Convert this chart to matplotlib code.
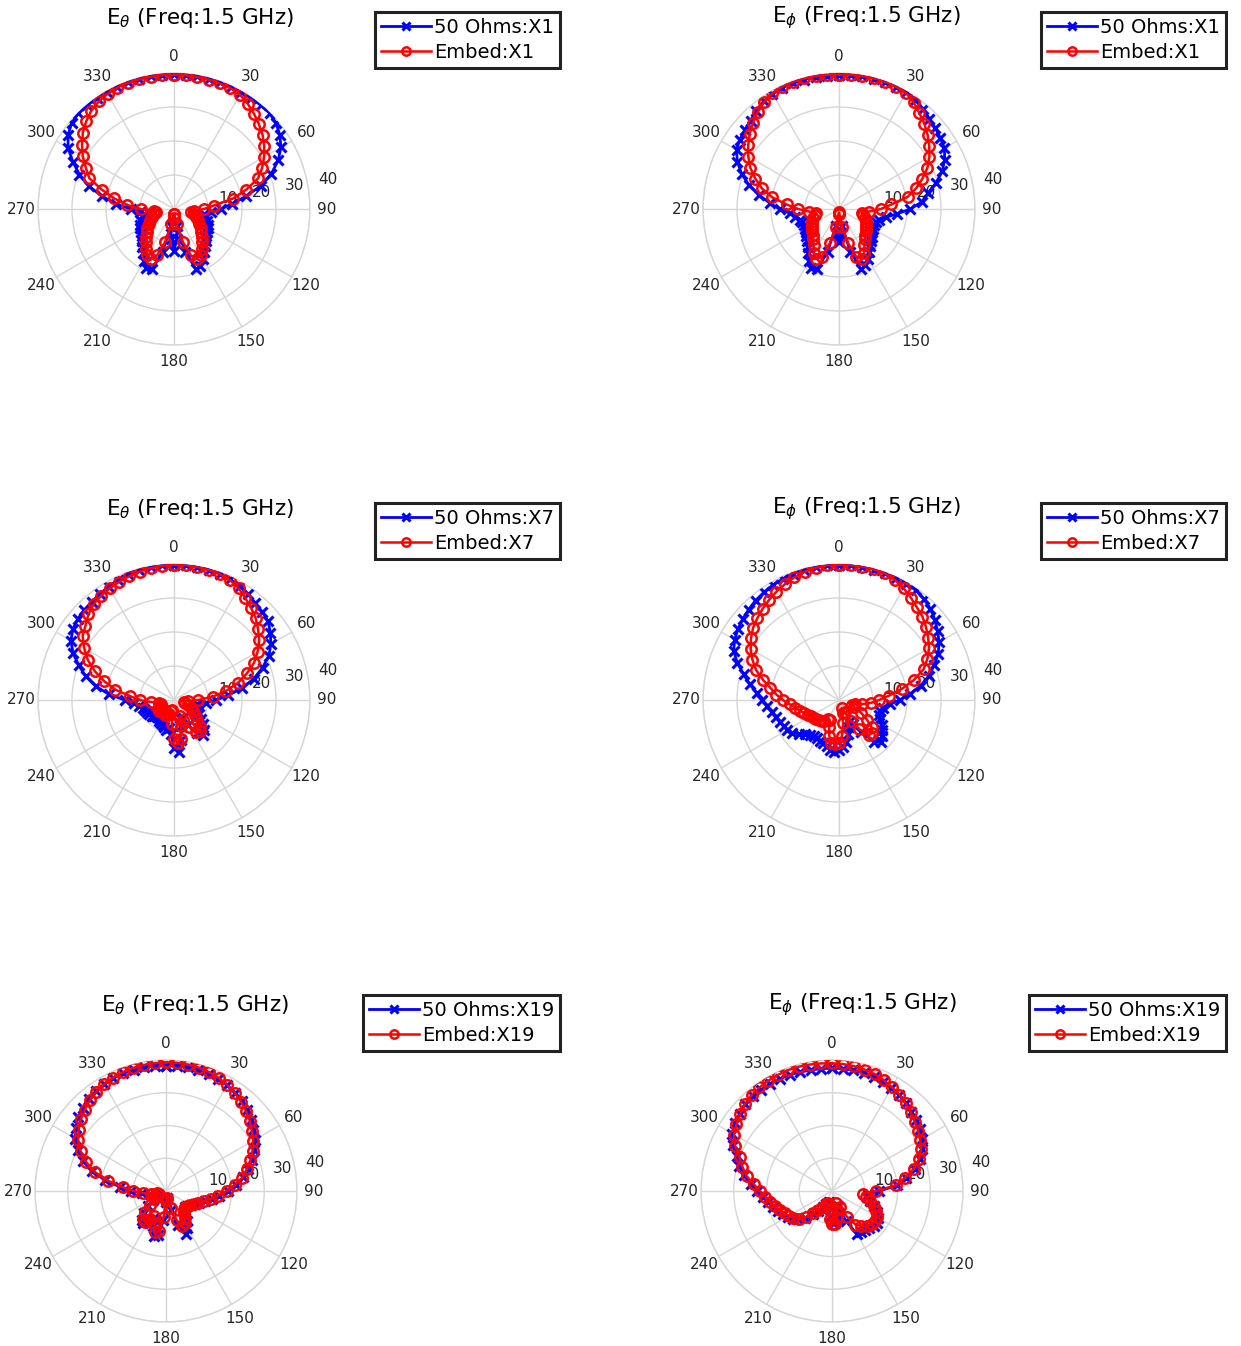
import numpy as np
import matplotlib
matplotlib.use("Agg")
import matplotlib.pyplot as plt

# ---------------- data (r in dB-scale units, sampled every 5 degrees) ----------------
angles_deg = list(range(0, 360, 5))
r_ticks = [10, 20, 30, 40]
theta_tick_labels = [str(a) for a in range(0, 360, 30)]
freq_label = "Freq:1.5 GHz"
ports = ["X1", "X7", "X19"]
series_names = ["50 Ohms", "Embed"]

# X1, E_theta
x1_theta_50ohm = [39.6, 39.6, 39.6, 39.6, 39.6, 39.6, 39.6, 39.7, 39.8, 39.8, 39.2, 38.0,
                  36.3, 33.8, 30.5, 26.5, 21.5, 17.0, 13.8, 11.0, 9.0, 9.5, 10.4, 11.0,
                  11.4, 11.8, 12.3, 13.2, 14.3, 15.6, 17.0, 18.4, 18.9, 13.0, 5.0, 9.0,
                  12.3, 9.0, 5.0, 13.0, 18.9, 19.2, 17.5, 15.8, 14.5, 13.3, 12.4, 11.8,
                  11.4, 11.0, 10.4, 9.5, 9.0, 10.0, 12.7, 17.0, 21.5, 25.8, 29.6, 32.8,
                  36.0, 38.0, 39.3, 39.8, 39.8, 39.7, 39.6, 39.6, 39.6, 39.6, 39.6, 39.6]
x1_theta_embed = [39.5, 39.5, 39.4, 39.4, 39.3, 39.2, 38.8, 37.8, 36.6, 35.3, 34.0, 32.4,
                  30.6, 28.6, 26.3, 22.0, 17.6, 11.8, 8.8, 6.0, 5.2, 6.0, 7.0, 7.8,
                  8.6, 9.6, 10.4, 11.5, 12.8, 14.2, 15.6, 16.2, 14.5, 10.0, 4.5, 1.5,
                  2.5, 1.5, 4.5, 10.0, 14.5, 16.2, 15.6, 14.2, 12.8, 11.5, 10.4, 9.6,
                  8.6, 7.8, 7.0, 6.0, 5.3, 6.0, 9.8, 13.8, 17.8, 22.0, 26.5, 28.6,
                  31.0, 33.0, 35.0, 36.5, 37.8, 38.6, 39.1, 39.4, 39.5, 39.5, 39.5, 39.5]

# X1, E_phi
x1_phi_50ohm = [39.4, 39.5, 39.6, 39.7, 39.7, 39.7, 39.6, 39.2, 38.4, 37.6, 37.0, 36.4,
                35.8, 34.3, 32.3, 29.5, 26.5, 24.5, 21.0, 17.0, 14.0, 12.3, 11.6, 11.4,
                11.6, 12.0, 12.6, 13.3, 14.3, 15.6, 17.0, 18.3, 18.9, 13.0, 5.0, 7.5,
                9.8, 7.5, 5.0, 13.0, 18.9, 19.3, 17.5, 15.8, 14.4, 13.3, 12.5, 12.0,
                11.6, 11.4, 11.5, 12.0, 13.0, 14.5, 17.5, 20.5, 23.9, 27.5, 30.5, 33.0,
                34.8, 35.6, 36.2, 36.8, 37.8, 38.6, 39.2, 39.4, 39.4, 39.4, 39.4, 39.4]
x1_phi_embed = [39.5, 39.6, 39.7, 39.8, 39.8, 39.7, 39.4, 38.3, 36.8, 35.5, 34.0, 32.4,
                30.7, 28.7, 26.1, 23.5, 20.5, 15.5, 12.3, 8.8, 6.8, 7.2, 8.0, 8.7,
                9.2, 9.7, 10.2, 10.9, 11.7, 13.0, 14.8, 16.2, 15.0, 10.5, 5.5, 1.5,
                1.0, 1.5, 5.5, 10.5, 15.0, 16.2, 14.8, 13.0, 11.7, 10.9, 10.2, 9.7,
                9.2, 8.7, 8.0, 7.2, 6.8, 8.8, 12.0, 15.5, 20.0, 23.5, 26.2, 28.8,
                30.8, 32.6, 34.3, 35.8, 37.2, 38.4, 39.3, 39.7, 39.8, 39.8, 39.7, 39.6]

# X7, E_theta
x7_theta_50ohm = [39.8, 39.8, 39.8, 39.7, 39.5, 39.2, 38.7, 38.0, 37.2, 36.7, 36.1, 34.6,
                  32.9, 30.8, 27.7, 24.3, 20.4, 16.0, 12.5, 9.5, 7.0, 6.5, 7.0, 7.5,
                  8.5, 9.8, 11.2, 12.6, 13.4, 12.0, 8.5, 6.0, 5.5, 8.0, 12.0, 15.5,
                  14.0, 10.0, 8.5, 9.2, 8.5, 8.0, 7.9, 7.5, 7.0, 7.0, 7.5, 8.0,
                  8.5, 8.6, 9.0, 9.5, 10.5, 11.8, 14.5, 19.2, 23.4, 26.9, 29.8, 32.8,
                  35.0, 36.3, 37.0, 37.4, 37.7, 38.0, 38.5, 39.0, 39.3, 39.5, 39.7, 39.8]
x7_theta_embed = [39.8, 39.8, 39.7, 39.6, 39.4, 38.9, 38.0, 36.6, 35.3, 34.0, 32.3, 30.6,
                  28.4, 26.0, 22.8, 19.5, 15.6, 11.5, 7.0, 4.0, 3.0, 3.5, 4.5, 5.5,
                  6.5, 7.5, 9.0, 10.8, 11.9, 11.5, 9.0, 6.5, 5.0, 8.0, 11.5, 12.8,
                  11.5, 7.0, 3.0, 3.5, 4.5, 5.0, 5.0, 4.5, 4.0, 4.5, 5.0, 5.5,
                  5.5, 5.0, 4.5, 4.0, 4.5, 6.9, 10.0, 13.0, 17.5, 21.2, 24.8, 28.0,
                  30.5, 32.8, 34.0, 35.6, 36.8, 37.4, 37.9, 38.3, 38.7, 39.1, 39.4, 39.6]

# X7, E_phi
x7_phi_50ohm = [39.8, 39.8, 39.8, 39.7, 39.6, 39.5, 39.5, 39.4, 38.8, 38.0, 36.8, 35.4,
                34.0, 32.2, 29.8, 27.3, 24.5, 21.0, 17.8, 15.0, 13.0, 12.5, 12.6, 13.3,
                14.5, 15.6, 16.6, 17.4, 16.0, 11.5, 8.0, 7.0, 8.5, 10.5, 12.5, 14.0,
                14.8, 15.3, 15.0, 14.0, 13.5, 13.2, 12.9, 13.0, 13.4, 14.0, 15.5, 16.8,
                17.5, 18.0, 18.5, 19.3, 20.1, 21.3, 22.7, 24.3, 26.7, 29.0, 31.8, 34.2,
                35.4, 36.3, 37.0, 37.6, 38.2, 38.6, 39.0, 39.3, 39.5, 39.6, 39.7, 39.8]
x7_phi_embed = [39.8, 39.8, 39.8, 39.8, 39.6, 38.9, 38.0, 36.8, 35.6, 34.7, 33.4, 32.0,
                30.6, 28.7, 26.5, 22.8, 18.8, 14.8, 11.8, 9.5, 7.0, 5.0, 4.0, 5.0,
                7.5, 10.0, 12.5, 13.8, 13.5, 10.5, 7.0, 4.0, 2.5, 4.0, 7.0, 10.5,
                12.5, 13.0, 12.8, 11.0, 8.5, 6.5, 6.5, 7.5, 8.0, 8.5, 8.8, 9.0,
                9.4, 10.2, 11.0, 12.0, 13.0, 14.5, 16.5, 18.5, 20.5, 23.2, 26.0, 28.1,
                30.0, 31.6, 33.0, 34.0, 35.0, 35.9, 36.8, 37.6, 38.4, 39.0, 39.5, 39.8]

# X19, E_theta
x19_theta_50ohm = [38.3, 38.3, 38.3, 38.2, 38.0, 37.7, 37.3, 36.7, 35.9, 34.9, 33.9, 32.6,
                   31.4, 29.8, 27.9, 26.0, 24.0, 21.5, 19.0, 16.3, 14.2, 12.3, 10.8, 9.7,
                   8.8, 8.0, 7.6, 8.0, 9.2, 11.0, 13.0, 14.6, 11.0, 6.0, 2.5, 2.0,
                   3.5, 9.0, 13.5, 14.1, 11.5, 9.0, 10.5, 12.0, 11.5, 9.5, 7.0, 5.0,
                   3.8, 2.8, 2.8, 3.2, 5.0, 7.5, 10.6, 14.0, 18.8, 23.4, 27.0, 29.8,
                   32.0, 33.7, 35.0, 36.0, 36.8, 37.3, 37.7, 38.0, 38.2, 38.3, 38.3, 38.3]
x19_theta_embed = [39.3, 39.3, 39.2, 39.0, 38.6, 38.1, 37.4, 36.6, 35.6, 34.5, 33.4, 32.0,
                   30.8, 29.2, 27.4, 25.5, 23.7, 21.0, 18.5, 15.8, 13.8, 11.9, 10.5, 9.5,
                   8.6, 7.8, 7.4, 7.6, 8.5, 10.0, 11.3, 11.8, 9.5, 5.5, 2.5, 2.0,
                   3.0, 8.0, 12.5, 13.0, 10.5, 8.5, 10.0, 11.4, 11.0, 9.0, 6.5, 4.5,
                   3.5, 2.5, 2.5, 2.8, 4.5, 7.0, 10.0, 13.2, 18.0, 22.6, 26.0, 28.8,
                   31.0, 32.6, 34.0, 35.1, 36.2, 37.0, 37.7, 38.2, 38.6, 38.9, 39.1, 39.2]

# X19, E_phi
x19_phi_50ohm = [37.5, 37.5, 37.4, 37.3, 37.1, 36.8, 36.3, 35.8, 35.1, 34.3, 33.5, 32.8,
                 31.7, 30.4, 28.6, 26.2, 23.0, 19.8, 14.5, 11.0, 11.0, 12.0, 13.5, 15.0,
                 16.3, 16.8, 16.6, 16.0, 15.5, 15.2, 15.0, 10.0, 5.0, 6.5, 8.5, 9.5,
                 9.5, 8.0, 5.0, 3.5, 3.8, 4.5, 5.6, 7.4, 9.2, 11.6, 13.5, 14.7,
                 15.6, 16.4, 17.5, 18.6, 19.9, 21.2, 22.8, 24.9, 27.4, 29.3, 31.0, 33.4,
                 35.1, 36.0, 36.8, 37.4, 37.7, 37.8, 37.8, 37.8, 37.7, 37.6, 37.5, 37.5]
x19_phi_embed = [39.0, 38.9, 38.7, 38.4, 38.0, 37.4, 36.6, 35.9, 35.0, 34.0, 33.0, 32.1,
                 31.1, 30.0, 28.2, 25.8, 22.5, 19.5, 13.5, 9.5, 10.5, 12.0, 13.5, 14.8,
                 15.7, 16.1, 15.8, 15.0, 14.0, 12.5, 9.0, 5.5, 4.0, 6.0, 8.5, 10.0,
                 10.0, 8.5, 5.5, 4.0, 4.0, 4.5, 5.5, 7.2, 8.9, 11.3, 13.2, 14.4,
                 15.2, 16.0, 17.0, 18.0, 19.3, 20.5, 22.0, 24.0, 26.5, 28.3, 30.0, 32.7,
                 34.5, 35.6, 36.6, 37.6, 38.2, 38.6, 38.9, 39.1, 39.3, 39.3, 39.2, 39.1]

# ---------------- figure ----------------
W, H = 1241, 1346
fig = plt.figure(figsize=(W / 100, H / 100), dpi=100)
plt.rcParams["font.family"] = ["DejaVu Sans"]

TXT = "#262626"
GRID = "#d6d6d6"


def fx(px):
    return px / W


def fy(py):
    return 1 - py / H


panels = [
    # (cx, cy, R, blue, red, component, port, title_cx, title_cy, legend_x, legend_y)
    (174, 209, 136, x1_theta_50ohm, x1_theta_embed, r"\theta", "X1", 200, 18, 375, 12),
    (839, 209, 136, x1_phi_50ohm, x1_phi_embed, r"\phi", "X1", 866, 18, 1041, 12),
    (174, 700, 136, x7_theta_50ohm, x7_theta_embed, r"\theta", "X7", 200, 509, 375, 503),
    (839, 700, 136, x7_phi_50ohm, x7_phi_embed, r"\phi", "X7", 866, 509, 1041, 503),
    (166, 1191, 131, x19_theta_50ohm, x19_theta_embed, r"\theta", "X19", 195, 1005, 363, 995),
    (832, 1191, 131, x19_phi_50ohm, x19_phi_embed, r"\phi", "X19", 862, 1005, 1029, 995),
]

for cx, cy, R, blue, red, comp, port, tcx, tcy, lx, ly in panels:
    ax = fig.add_axes([fx(cx - R), fy(cy + R), fx(2 * R), 2 * R / H], projection="polar")
    ax.set_theta_zero_location("N")
    ax.set_theta_direction(-1)

    th = np.deg2rad(np.append(angles_deg, angles_deg[0]))
    rb = np.append(blue, blue[0])
    rr = np.append(red, red[0])

    ax.plot(th, rb, color="#0000ff", lw=2.0, marker="x", ms=7.5, mew=2.2,
            label=f"{series_names[0]}:{port}", zorder=3)
    ax.plot(th, rr, color="#ff0000", lw=1.8, marker="o", ms=7.5, mew=1.8,
            mfc="none", label=f"{series_names[1]}:{port}", zorder=4)

    ax.set_ylim(0, 40)
    ax.set_yticks(r_ticks)
    ax.set_yticklabels([])
    ax.set_thetagrids(np.arange(0, 360, 30), labels=theta_tick_labels)
    ax.tick_params(axis="x", labelsize=11, colors=TXT, pad=1.5)
    ax.grid(True, color=GRID, lw=1.0)
    ax.spines["polar"].set_color(GRID)
    ax.spines["polar"].set_linewidth(1.0)
    ax.set_facecolor("white")

    for rv in r_ticks:
        ax.text(np.deg2rad(79), rv + 6.2, str(rv), ha="center", va="center",
                fontsize=11, color=TXT, clip_on=False, zorder=2)

    fig.text(fx(tcx), fy(tcy), rf"E$_{{{comp}}}$ ({freq_label})", ha="center",
             va="center", fontsize=15.5, color="black")

    leg = ax.legend(loc="upper left", bbox_to_anchor=(fx(lx), fy(ly)),
                    bbox_transform=fig.transFigure, fontsize=14.0, frameon=True,
                    fancybox=False, numpoints=1, handlelength=2.6, handletextpad=0.15,
                    borderpad=0.3, labelspacing=0.3, borderaxespad=0,
                    markerscale=0.8)
    fr = leg.get_frame()
    fr.set_edgecolor("#222222")
    fr.set_linewidth(2.2)
    fr.set_alpha(1)

fig.savefig("out.png", dpi=100, facecolor="white")
